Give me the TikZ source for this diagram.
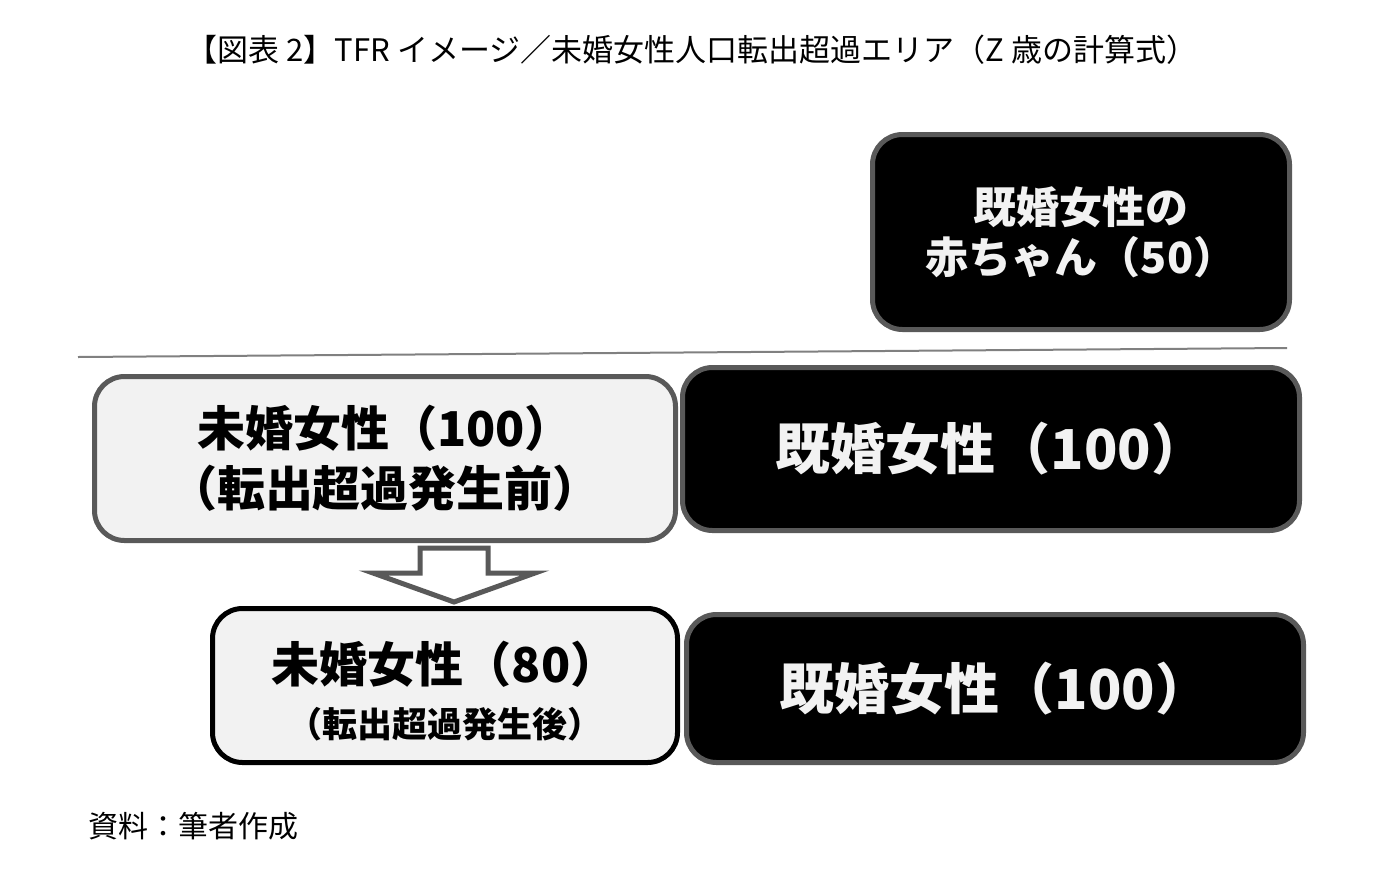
\documentclass[tikz,border=0pt]{standalone}
\usepackage{fontspec}
\setmainfont{Noto Sans CJK JP}
\usetikzlibrary{positioning,calc}
\definecolor{rim}{HTML}{595959}
\definecolor{paper}{HTML}{F2F2F2}
\tikzset{wbox/.style={rounded corners=15pt, line width=2.5pt, draw=rim, fill=paper, align=center, inner sep=0pt}}
\tikzset{kbox/.style={wbox, fill=black, text=paper}}
\tikzset{sepline/.style={draw=black!50, line width=1pt}}
\tikzset{barr/.style={draw=rim, line width=2.5pt, fill=white, line join=miter}}
\newcommand{\fsz}[2]{\fontsize{#1}{#2}\selectfont}

\begin{document}
\begin{tikzpicture}[x=0.5pt, y=-0.5pt]
  \useasboundingbox (0,0) rectangle (1388,885);
  \node (title) at (692,50) {\fsz{15.5pt}{18pt}【図表 2】TFR イメージ／未婚女性人口転出超過エリア（Z 歳の計算式）};
  % upper row
  \node[kbox, minimum width=208.5pt, minimum height=97.5pt] (baby) at (1081,232)
    {\bfseries\fsz{21.5pt}{25pt}既婚女性の\\[3.5pt]\bfseries\fsz{21.5pt}{25pt}赤ちゃん（50）};
  \draw[sepline] (78,357) -- (1287,348);
  \node[wbox, minimum width=290.5pt, minimum height=82pt] (before) at (385,458.5)
    {\bfseries\fsz{24pt}{30pt}未婚女性（100）\\[6pt]\bfseries\fsz{24pt}{30pt}（転出超過発生前）};
  \node[kbox, minimum width=308.5pt, minimum height=81.5pt, right=1pt of before, yshift=4.75pt] (marA)
    {\bfseries\fsz{27.5pt}{30pt}既婚女性（100）};
  % arrow
  \draw[barr] (420,548) -- (488,548) -- (488,573) -- (535,573) -- (454,602)
    -- (373,573) -- (420,573) -- cycle;
  % lower row
  \node[wbox, draw=black, minimum width=232.5pt, minimum height=77pt] (after) at (445,685.5)
    {\rule{0pt}{26pt}\bfseries\fsz{24pt}{31pt}未婚女性（80）\\[9pt]\bfseries\fsz{17.5pt}{31pt}（転出超過発生後）};
  \node[kbox, minimum width=308.5pt, minimum height=74pt, right=2pt of after, yshift=-1.5pt] (marB)
    {\bfseries\fsz{27.5pt}{30pt}既婚女性（100）};
  \node[anchor=west, inner sep=0pt] (src) at (88,826) {\fsz{15pt}{18pt}資料：筆者作成};
\end{tikzpicture}
\end{document}
